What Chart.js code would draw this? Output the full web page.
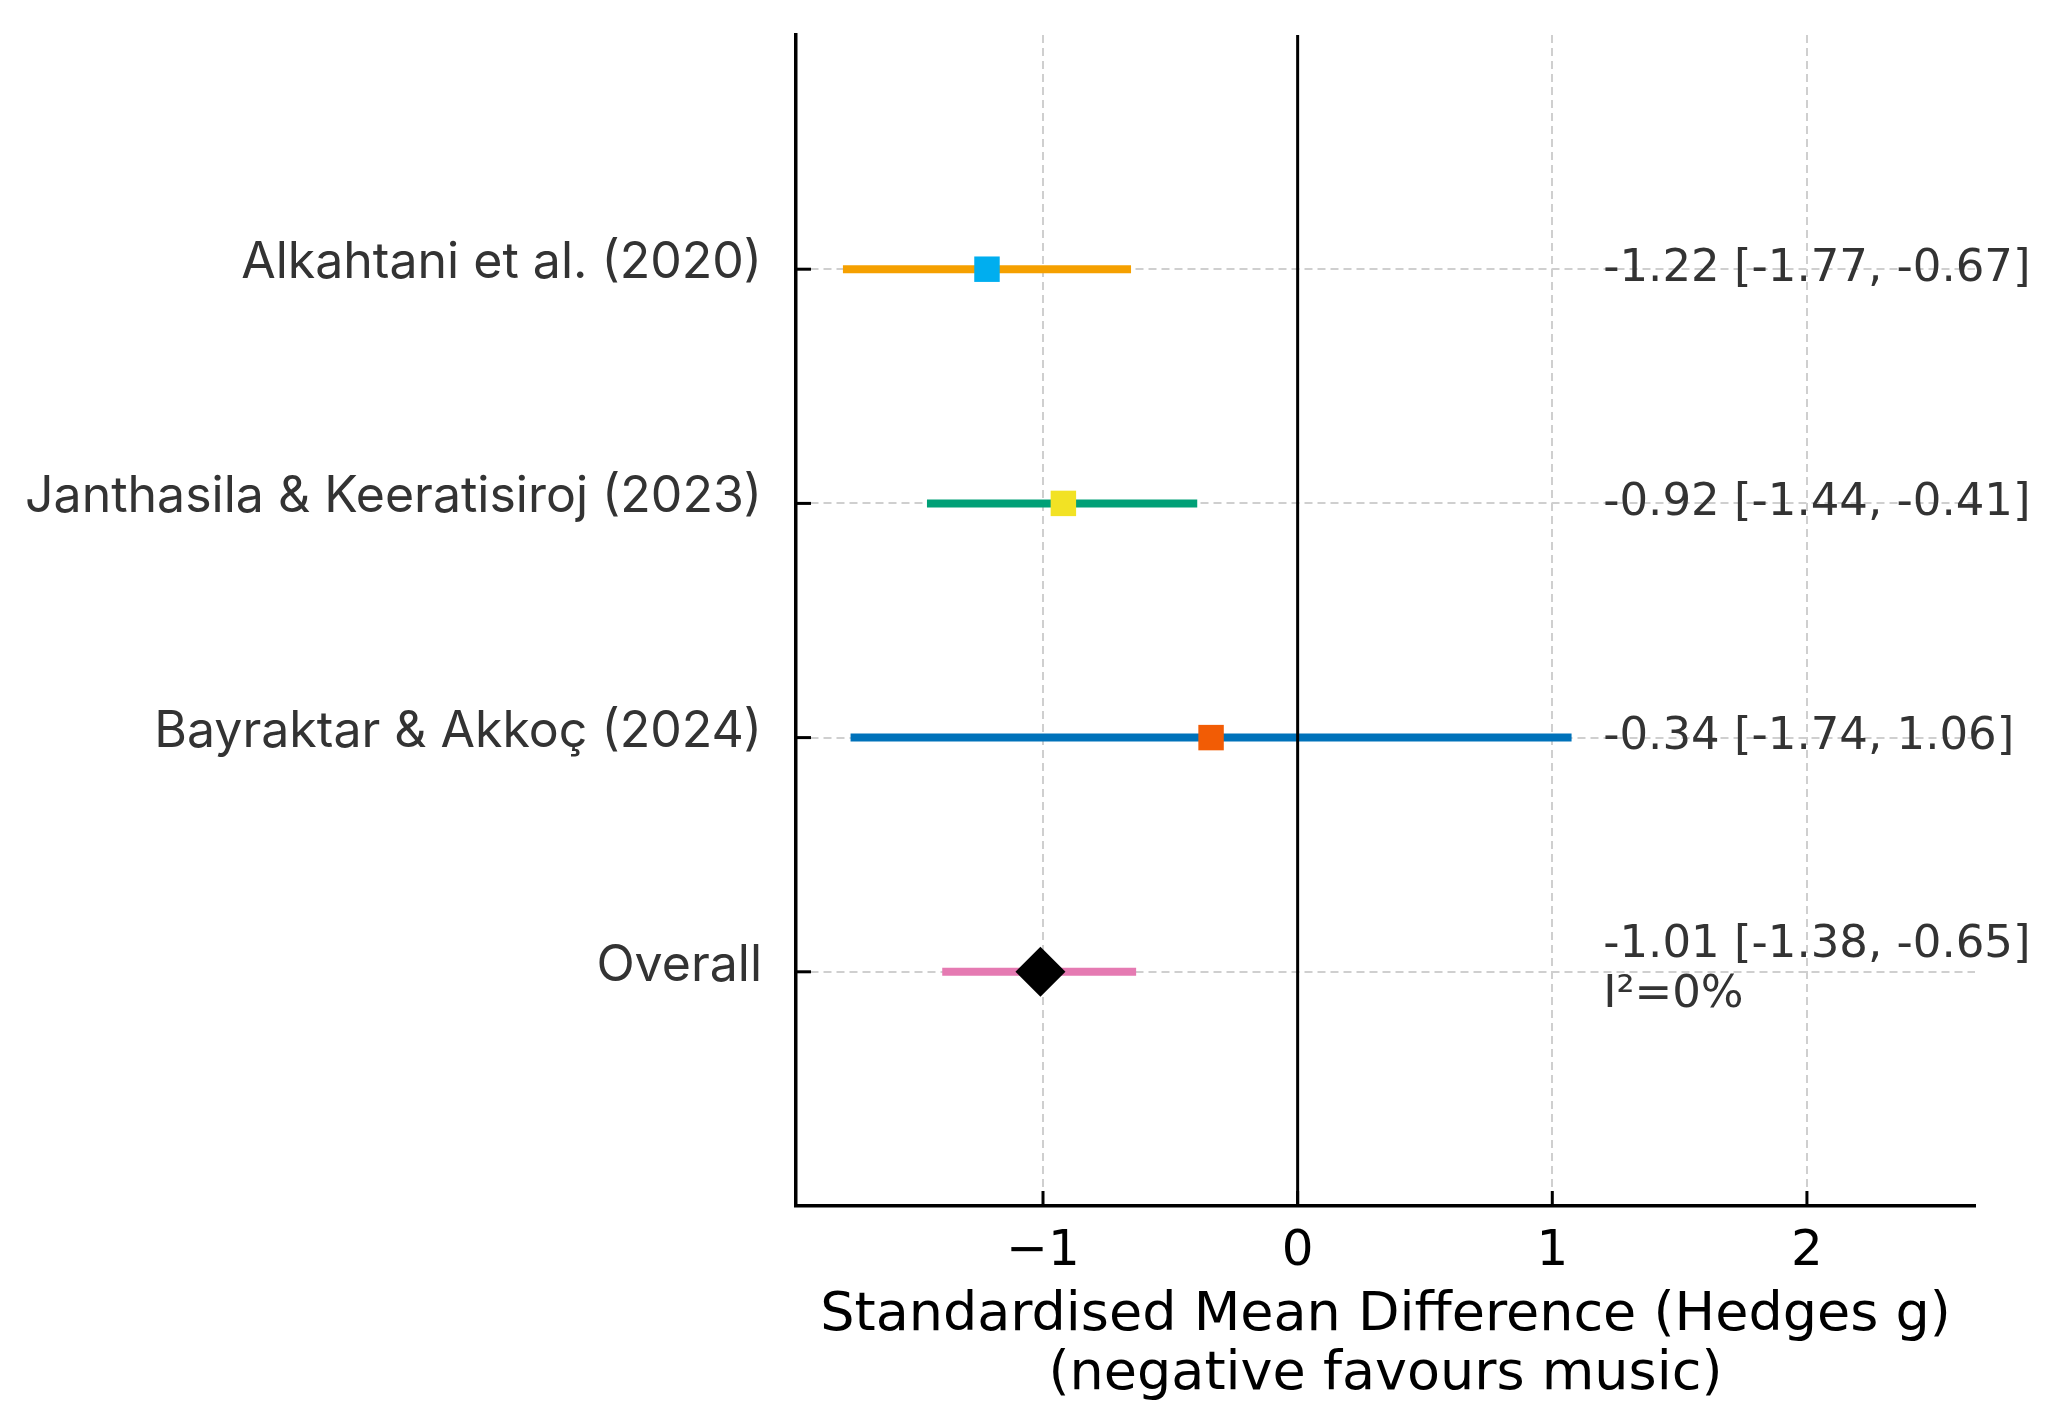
<!DOCTYPE html>
<html><head><meta charset="utf-8">
<script src="https://cdn.jsdelivr.net/npm/chart.js@4.4.1/dist/chart.umd.min.js"></script>
<style>html,body{margin:0;padding:0;background:#fff;} #wrap{width:2049px;height:1419px;position:relative;}</style>
</head><body><div id="wrap"><canvas id="c"></canvas></div>
<script>
// ---- data ----
const studies = ['Alkahtani et al. (2020)', 'Janthasila & Keeratisiroj (2023)', 'Bayraktar & Akkoç (2024)', 'Overall'];
const estimates = [-1.22, -0.92, -0.34, -1.01];
const lowerCI = [-1.77, -1.44, -1.74, -1.38];
const upperCI = [-0.67, -0.41, 1.06, -0.65];
const rowPositions = [3, 2, 1, 0];
const xTickValues = [-1, 0, 1, 2];
const heterogeneity = 'I\u00B2=0%';
const xAxisTitle = ['Standardised Mean Difference (Hedges g)', '(negative favours music)'];
const xRange = [-1.97, 2.66];
const yRange = [-1, 4];

// ---- styles ----
const lineColors = ['#F5A000', '#00A077', '#0072BA', '#E57AB2'];
const markerColors = ['#00AEEF', '#F2E224', '#F25C05', '#000000'];
const markerStyles = ['rect', 'rect', 'rect', 'rectRot'];
const markerRadii = [18, 18, 18, 25];

const fmtTick = v => v < 0 ? '\u2212' + Math.abs(v) : String(v);
const fmtCI = i => `${estimates[i].toFixed(2)} [${lowerCI[i].toFixed(2)}, ${upperCI[i].toFixed(2)}]`;

const datasets = [];
studies.forEach((s, i) => {
  datasets.push({
    type: 'scatter', label: s + ' est', order: 0,
    data: [{x: estimates[i], y: rowPositions[i]}],
    pointStyle: markerStyles[i], pointRadius: markerRadii[i], pointHoverRadius: markerRadii[i],
    backgroundColor: markerColors[i], borderColor: markerColors[i], borderWidth: 0
  });
});
datasets.push({
  type: 'line', label: 'zero', order: 1,
  data: [{x: 0, y: yRange[0]}, {x: 0, y: yRange[1]}],
  borderColor: '#000', borderWidth: 3, pointRadius: 0, fill: false
});
studies.forEach((s, i) => {
  datasets.push({
    type: 'line', label: s + ' CI', order: 2,
    data: [{x: lowerCI[i], y: rowPositions[i]}, {x: upperCI[i], y: rowPositions[i]}],
    borderColor: lineColors[i], borderWidth: 8, borderCapStyle: 'square', pointRadius: 0, fill: false
  });
});

const forestText = {
  id: 'forestText',
  afterDraw(chart) {
    const {ctx, chartArea: a, scales: {x, y}} = chart;
    ctx.save();
    // inward ticks
    ctx.strokeStyle = '#000'; ctx.lineWidth = 3;
    x.ticks.forEach(t => {
      const px = x.getPixelForValue(t.value);
      ctx.beginPath(); ctx.moveTo(px, a.bottom); ctx.lineTo(px, a.bottom - 15); ctx.stroke();
    });
    y.ticks.forEach(t => {
      const py = y.getPixelForValue(t.value);
      ctx.beginPath(); ctx.moveTo(a.left, py); ctx.lineTo(a.left + 15, py); ctx.stroke();
    });
    // x tick labels
    ctx.fillStyle = '#000'; ctx.textAlign = 'center'; ctx.textBaseline = 'middle';
    ctx.font = '50px "DejaVu Sans"';
    x.ticks.forEach(t => ctx.fillText(fmtTick(t.value), x.getPixelForValue(t.value), a.bottom + 46));
    // axis title
    ctx.font = '54px "DejaVu Sans"';
    const cx = (a.left + a.right) / 2;
    ctx.fillText(xAxisTitle[0], cx, a.bottom + 110);
    ctx.fillText(xAxisTitle[1], cx, a.bottom + 169);
    // study labels
    ctx.fillStyle = '#333'; ctx.textAlign = 'right';
    ctx.font = '50px Inter';
    studies.forEach((s, i) => ctx.fillText(s, a.left - 34, y.getPixelForValue(rowPositions[i]) - 6));
    // effect annotations
    ctx.textAlign = 'left'; ctx.font = '45px "DejaVu Sans"';
    const tx = x.getPixelForValue(1.2);
    studies.forEach((s, i) => {
      const py = y.getPixelForValue(rowPositions[i]);
      if (i === studies.length - 1) {
        ctx.fillText(fmtCI(i), tx, py - 26);
        ctx.fillText(heterogeneity, tx, py + 24);
      } else {
        ctx.fillText(fmtCI(i), tx, py);
      }
    });
    ctx.restore();
  }
};

new Chart(document.getElementById('c'), {
  type: 'scatter',
  data: {datasets},
  options: {
    responsive: true, maintainAspectRatio: false, devicePixelRatio: 1, animation: false,
    layout: {padding: {left: 796, right: 74, top: 35, bottom: 213}},
    plugins: {legend: {display: false}, tooltip: {enabled: false}},
    scales: {
      x: {
        type: 'linear', min: xRange[0], max: xRange[1],
        afterBuildTicks: s => { s.ticks = xTickValues.map(v => ({value: v})); },
        afterFit: s => { s.height = 0; },
        ticks: {display: false},
        grid: {color: '#cfcfcf', lineWidth: 2, drawTicks: false},
        border: {color: '#000', width: 3.5, dash: [8, 5]}
      },
      y: {
        type: 'linear', min: yRange[0], max: yRange[1],
        afterBuildTicks: s => { s.ticks = rowPositions.map(v => ({value: v})); },
        afterFit: s => { s.width = 0; },
        ticks: {display: false},
        grid: {color: '#cfcfcf', lineWidth: 2, drawTicks: false},
        border: {color: '#000', width: 3.5, dash: [8, 5]}
      }
    }
  },
  plugins: [forestText]
});
</script></body></html>
